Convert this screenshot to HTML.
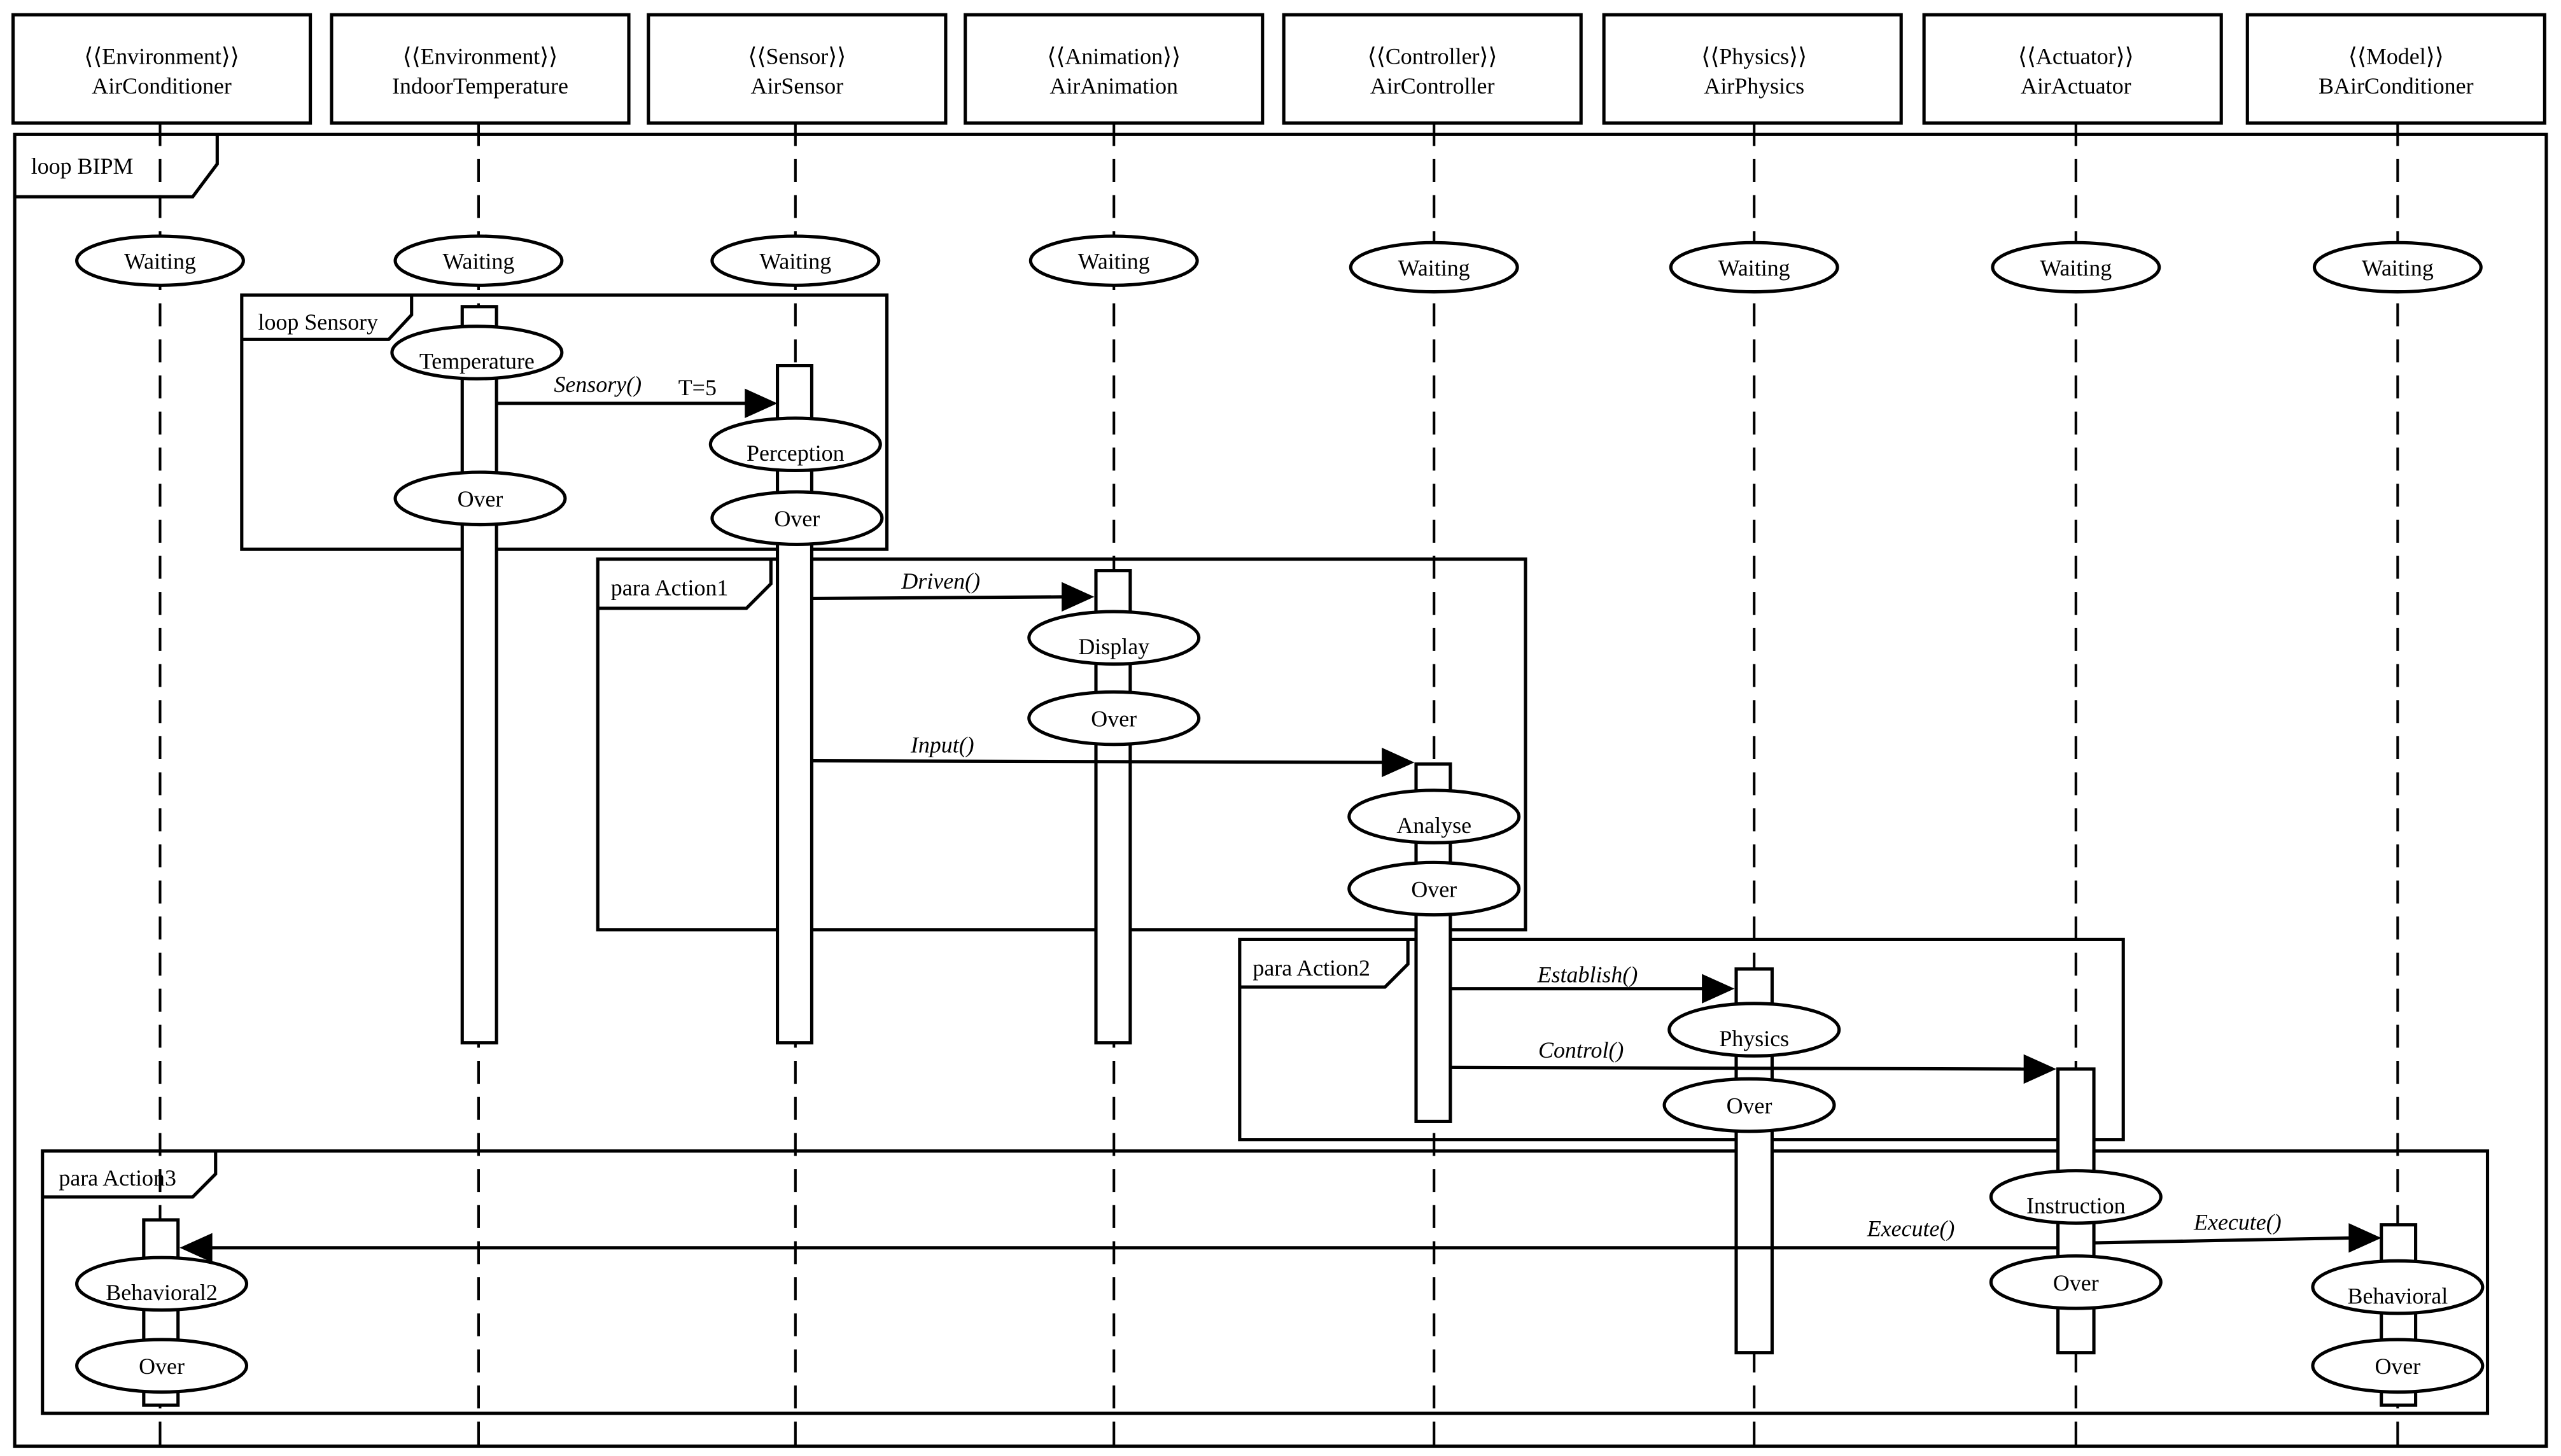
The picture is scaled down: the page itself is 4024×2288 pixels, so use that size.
<!DOCTYPE html>
<html><head><meta charset="utf-8"><style>
html,body{margin:0;padding:0;background:#fff;}
svg{display:block;}
</style></head><body>
<svg width="4024" height="2288" viewBox="0 0 1568 888" preserveAspectRatio="none" xmlns="http://www.w3.org/2000/svg">
<rect width="1568" height="888" fill="#fff"/>
<g fill="none" stroke="#000" stroke-width="2">
<rect x="8" y="9" width="182" height="66"/>
<rect x="203" y="9" width="182" height="66"/>
<rect x="397" y="9" width="182" height="66"/>
<rect x="591" y="9" width="182" height="66"/>
<rect x="786" y="9" width="182" height="66"/>
<rect x="982" y="9" width="182" height="66"/>
<rect x="1178" y="9" width="182" height="66"/>
<rect x="1376" y="9" width="182" height="66"/>
<rect x="9" y="82" width="1550" height="800"/>
<polyline points="9,120 118,120 133,100 133,82"/>
<rect x="148" y="180" width="395" height="155"/>
<polyline points="148,207 238,207 252,192 252,180"/>
<rect x="366" y="341" width="568" height="226"/>
<polyline points="366,371 457,371 472,356 472,341"/>
<rect x="759" y="573" width="541" height="122"/>
<polyline points="759,602 848,602 862,588 862,573"/>
<rect x="26" y="702" width="1497" height="160"/>
<polyline points="26,730 118,730 132,716 132,702"/>
</g>
<g stroke="#000" stroke-width="1.6" stroke-dasharray="14,8">
<line x1="98" y1="75" x2="98" y2="883"/>
<line x1="293" y1="75" x2="293" y2="883"/>
<line x1="487" y1="75" x2="487" y2="883"/>
<line x1="682" y1="75" x2="682" y2="883"/>
<line x1="878" y1="75" x2="878" y2="883"/>
<line x1="1074" y1="75" x2="1074" y2="883"/>
<line x1="1271" y1="75" x2="1271" y2="883"/>
<line x1="1468" y1="75" x2="1468" y2="883"/>
</g>
<g fill="#fff" stroke="#000" stroke-width="2">
<rect x="283" y="187" width="21" height="449"/>
<rect x="476" y="223" width="21" height="413"/>
<rect x="671" y="348" width="21" height="288"/>
<rect x="867" y="466" width="21" height="218"/>
<rect x="1063" y="591" width="22" height="234"/>
<rect x="1260" y="652" width="22" height="173"/>
<rect x="88" y="744" width="21" height="113"/>
<rect x="1458" y="747" width="21" height="110"/>
</g>
<g stroke="#000" stroke-width="2" fill="none">
<line x1="304" y1="246" x2="458" y2="246"/>
<line x1="497" y1="365" x2="652" y2="364"/>
<line x1="497" y1="464" x2="848" y2="465"/>
<line x1="888" y1="603" x2="1044" y2="603"/>
<line x1="888" y1="651" x2="1241" y2="652"/>
<line x1="1260" y1="761" x2="128" y2="761"/>
<line x1="1282" y1="758" x2="1440" y2="755"/>
</g>
<g fill="#000">
<polygon points="456,237 476,246 456,255"/>
<polygon points="650,355 670,364 650,373"/>
<polygon points="846,456 866,465 846,474"/>
<polygon points="1042,594 1062,603 1042,612"/>
<polygon points="1239,643 1259,652 1239,661"/>
<polygon points="130,752 110,761 130,770"/>
<polygon points="1438,746 1458,755 1438,764"/>
</g>
<g fill="#fff" stroke="#000" stroke-width="2">
<ellipse cx="98" cy="159" rx="51" ry="15"/>
<ellipse cx="293" cy="159" rx="51" ry="15"/>
<ellipse cx="487" cy="159" rx="51" ry="15"/>
<ellipse cx="682" cy="159" rx="51" ry="15"/>
<ellipse cx="878" cy="163" rx="51" ry="15"/>
<ellipse cx="1074" cy="163" rx="51" ry="15"/>
<ellipse cx="1271" cy="163" rx="51" ry="15"/>
<ellipse cx="1468" cy="163" rx="51" ry="15"/>
<ellipse cx="292" cy="215" rx="52" ry="16"/>
<ellipse cx="294" cy="304" rx="52" ry="16"/>
<ellipse cx="487" cy="271" rx="52" ry="16"/>
<ellipse cx="488" cy="316" rx="52" ry="16"/>
<ellipse cx="682" cy="389" rx="52" ry="16"/>
<ellipse cx="682" cy="438" rx="52" ry="16"/>
<ellipse cx="878" cy="498" rx="52" ry="16"/>
<ellipse cx="878" cy="542" rx="52" ry="16"/>
<ellipse cx="1074" cy="628" rx="52" ry="16"/>
<ellipse cx="1071" cy="674" rx="52" ry="16"/>
<ellipse cx="1271" cy="730" rx="52" ry="16"/>
<ellipse cx="1271" cy="782" rx="52" ry="16"/>
<ellipse cx="99" cy="783" rx="52" ry="16"/>
<ellipse cx="99" cy="833" rx="52" ry="16"/>
<ellipse cx="1468" cy="785" rx="52" ry="16"/>
<ellipse cx="1468" cy="833" rx="52" ry="16"/>
</g>
<g font-family="Liberation Serif, serif" font-size="14" fill="#000">
<g text-anchor="middle">
<text x="99" y="39">⟨⟨Environment⟩⟩</text><text x="99" y="57">AirConditioner</text>
<text x="294" y="39">⟨⟨Environment⟩⟩</text><text x="294" y="57">IndoorTemperature</text>
<text x="488" y="39">⟨⟨Sensor⟩⟩</text><text x="488" y="57">AirSensor</text>
<text x="682" y="39">⟨⟨Animation⟩⟩</text><text x="682" y="57">AirAnimation</text>
<text x="877" y="39">⟨⟨Controller⟩⟩</text><text x="877" y="57">AirController</text>
<text x="1074" y="39">⟨⟨Physics⟩⟩</text><text x="1074" y="57">AirPhysics</text>
<text x="1271" y="39">⟨⟨Actuator⟩⟩</text><text x="1271" y="57">AirActuator</text>
<text x="1467" y="39">⟨⟨Model⟩⟩</text><text x="1467" y="57">BAirConditioner</text>
<text x="98" y="164">Waiting</text>
<text x="293" y="164">Waiting</text>
<text x="487" y="164">Waiting</text>
<text x="682" y="164">Waiting</text>
<text x="878" y="168">Waiting</text>
<text x="1074" y="168">Waiting</text>
<text x="1271" y="168">Waiting</text>
<text x="1468" y="168">Waiting</text>
<text x="292" y="225">Temperature</text>
<text x="294" y="309">Over</text>
<text x="487" y="281">Perception</text>
<text x="488" y="321">Over</text>
<text x="682" y="399">Display</text>
<text x="682" y="443">Over</text>
<text x="878" y="508">Analyse</text>
<text x="878" y="547">Over</text>
<text x="1074" y="638">Physics</text>
<text x="1071" y="679">Over</text>
<text x="1271" y="740">Instruction</text>
<text x="1271" y="787">Over</text>
<text x="99" y="793">Behavioral2</text>
<text x="99" y="838">Over</text>
<text x="1468" y="795">Behavioral</text>
<text x="1468" y="838">Over</text>
<text x="366" y="239" font-style="italic">Sensory()</text>
<text x="427" y="241">T=5</text>
<text x="576" y="359" font-style="italic">Driven()</text>
<text x="577" y="459" font-style="italic">Input()</text>
<text x="972" y="599" font-style="italic">Establish()</text>
<text x="968" y="645" font-style="italic">Control()</text>
<text x="1170" y="754" font-style="italic">Execute()</text>
<text x="1370" y="750" font-style="italic">Execute()</text>
</g>
<text x="19" y="106">loop BIPM</text>
<text x="158" y="201">loop Sensory</text>
<text x="374" y="363">para Action1</text>
<text x="767" y="595">para Action2</text>
<text x="36" y="723">para Action3</text>
</g>
</svg>
</body></html>
